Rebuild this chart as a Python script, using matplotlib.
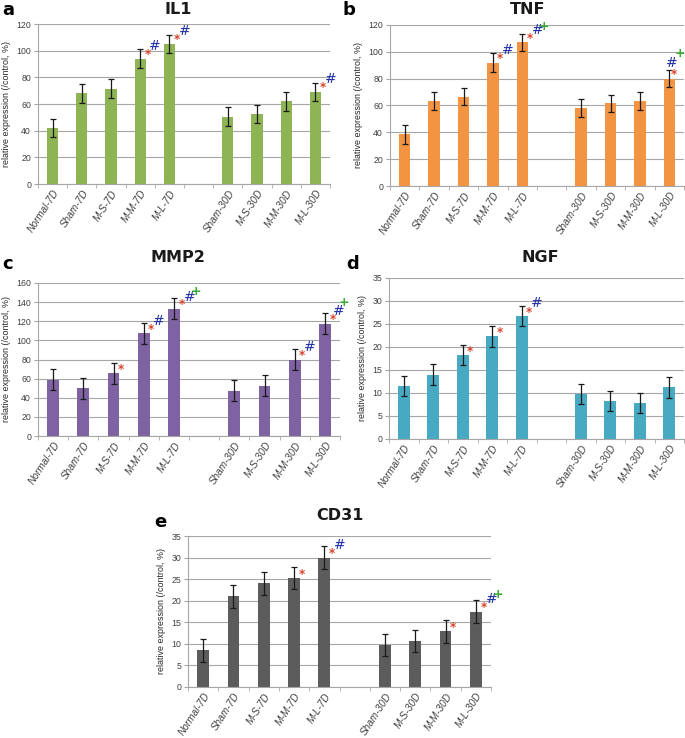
import matplotlib
matplotlib.use("Agg")
import matplotlib.pyplot as plt
import numpy as np

categories = ["Normal-7D", "Sham-7D", "M-S-7D", "M-M-7D", "M-L-7D", "",
              "Sham-30D", "M-S-30D", "M-M-30D", "M-L-30D"]

il1_vals = [42, 68, 71.5, 94, 105, None, 50.5, 52.5, 62, 69]
il1_err = [7, 7, 7, 7, 7, None, 7, 7, 7, 7]
tnf_vals = [38.5, 63.5, 66.5, 92, 107, None, 58, 61.5, 63.5, 80]
tnf_err = [7, 6.5, 6.5, 7, 6.5, None, 6.5, 6.5, 6.5, 6.5]
mmp2_vals = [59, 50, 65.5, 107.5, 133, None, 47.5, 52.5, 80, 117.5]
mmp2_err = [11, 11, 11, 11, 11, None, 11, 11, 11, 11]
ngf_vals = [11.5, 14, 18.2, 22.3, 26.7, None, 9.7, 8.2, 7.9, 11.2]
ngf_err = [2.2, 2.2, 2.2, 2.2, 2.2, None, 2.2, 2.2, 2.2, 2.2]
cd31_vals = [8.5, 21, 24, 25.2, 30, None, 9.7, 10.6, 12.9, 17.5]
cd31_err = [2.6, 2.6, 2.6, 2.6, 2.6, None, 2.6, 2.6, 2.6, 2.6]

# significance marks: index -> string of marks
il1_sig = {3: "*#", 4: "*#", 9: "*#"}
tnf_sig = {3: "*#", 4: "*#+", 9: "*#+"}
mmp2_sig = {2: "*", 3: "*#", 4: "*#+", 8: "*#", 9: "*#+"}
ngf_sig = {2: "*", 3: "*", 4: "*#"}
cd31_sig = {3: "*", 4: "*#", 8: "*", 9: "*#+"}

W, H = 685, 738
fig = plt.figure(figsize=(W / 100, H / 100), dpi=100)
fig.patch.set_facecolor("white")

tick_font = "Liberation Sans"

# default placement of marks: (dx in category slots, dy as fraction of y-range)
DEFAULT_OFFS = {"*": (0.25, 0.025), "#": (0.48, 0.08), "+": (0.72, 0.115)}
MARK_STYLE = {"*": ("#d9442b", 8.5, "bold", "normal"),
              "#": ("#1f2fa8", 10, "normal", "italic"),
              "+": ("#3aaa35", 9, "bold", "normal")}


def px_axes(left, right, top, bottom):
    return fig.add_axes([left / W, 1 - bottom / H, (right - left) / W, (bottom - top) / H])


def panel(ax, vals, errs, sig, color, ymax, ystep, title, letter, title_xy, letter_xy,
          offs_override=None):
    x = np.arange(len(categories))
    idx = [i for i, v in enumerate(vals) if v is not None]
    xv = [x[i] for i in idx]
    yv = [vals[i] for i in idx]
    ev = [errs[i] for i in idx]
    ax.set_axisbelow(True)
    ax.bar(xv, yv, width=0.39, color=color, zorder=2)
    ax.errorbar(xv, yv, yerr=ev, fmt="none", ecolor="#1a1a1a", elinewidth=0.9,
                capsize=2.2, capthick=0.9, zorder=3)
    ax.set_xlim(-0.5, len(categories) - 0.5)
    ax.set_ylim(0, ymax)
    ax.set_yticks(np.arange(0, ymax + ystep / 2, ystep))
    ax.yaxis.grid(True, color="#a6a6a6", linewidth=0.8)
    ax.set_xticks(x)
    ax.set_xticklabels(categories, rotation=57, ha="right", rotation_mode="anchor",
                       fontsize=7.2, style="italic", color="#404040", family=tick_font)
    ax.tick_params(axis="x", length=0, pad=3)
    ax.set_xticks(np.arange(-0.5, len(categories), 1.0), minor=True)
    ax.tick_params(axis="x", which="minor", length=3, color="#a6a6a6")
    ax.tick_params(axis="y", length=3, color="#a6a6a6", labelsize=6.3, labelcolor="#404040", pad=2)
    for lab in ax.get_yticklabels():
        lab.set_family(tick_font)
    for s in ["top", "right"]:
        ax.spines[s].set_visible(False)
    for s in ["left", "bottom"]:
        ax.spines[s].set_color("#a6a6a6")
        ax.spines[s].set_linewidth(0.8)
    ax.set_ylabel("relative expression (/control, %)", fontsize=6.4, family=tick_font,
                  color="#262626", labelpad=4)
    for i, marks in sig.items():
        for m in marks:
            dx, dy = DEFAULT_OFFS[m]
            if offs_override and (i, m) in offs_override:
                dx, dy = offs_override[(i, m)]
            c, fs, fw, st = MARK_STYLE[m]
            ax.text(x[i] + dx, vals[i] + dy * ymax, m, color=c, fontsize=fs,
                    ha="center", va="center", fontweight=fw, style=st,
                    family="DejaVu Sans", clip_on=False, zorder=4)
    fig.text(title_xy[0] / W, 1 - title_xy[1] / H, title, fontsize=11.5, fontweight="bold",
             ha="center", va="center", family="DejaVu Sans", color="#1a1a1a")
    fig.text(letter_xy[0] / W, 1 - letter_xy[1] / H, letter, fontsize=13, fontweight="bold",
             ha="left", va="center", family="DejaVu Sans", color="black")


ax_a = px_axes(38, 330, 24, 184)
panel(ax_a, il1_vals, il1_err, il1_sig, "#8fb455", 120, 20, "IL1", "a", (178, 10), (2, 10))
ax_b = px_axes(390, 684, 25, 186)
panel(ax_b, tnf_vals, tnf_err, tnf_sig, "#f39442", 120, 20, "TNF", "b", (528, 10), (342, 10),
      offs_override={(4, "+"): (0.72, 0.1),
                     (9, "*"): (0.15, 0.025), (9, "#"): (0.05, 0.095), (9, "+"): (0.37, 0.155)})
ax_c = px_axes(38, 340, 283, 436)
panel(ax_c, mmp2_vals, mmp2_err, mmp2_sig, "#7e62a1", 160, 20, "MMP2", "c", (178, 258), (2, 264),
      offs_override={(9, "*"): (0.25, 0.03), (9, "#"): (0.43, 0.085), (9, "+"): (0.62, 0.14)})
ax_d = px_axes(389, 684, 278, 439)
panel(ax_d, ngf_vals, ngf_err, ngf_sig, "#47a9c2", 35, 5, "NGF", "d", (540, 257), (346, 264))
ax_e = px_axes(188, 491, 536, 687)
panel(ax_e, cd31_vals, cd31_err, cd31_sig, "#5c5c5c", 35, 5, "CD31", "e", (340, 516), (154, 522))

fig.savefig("out.png", dpi=100, facecolor="white")
